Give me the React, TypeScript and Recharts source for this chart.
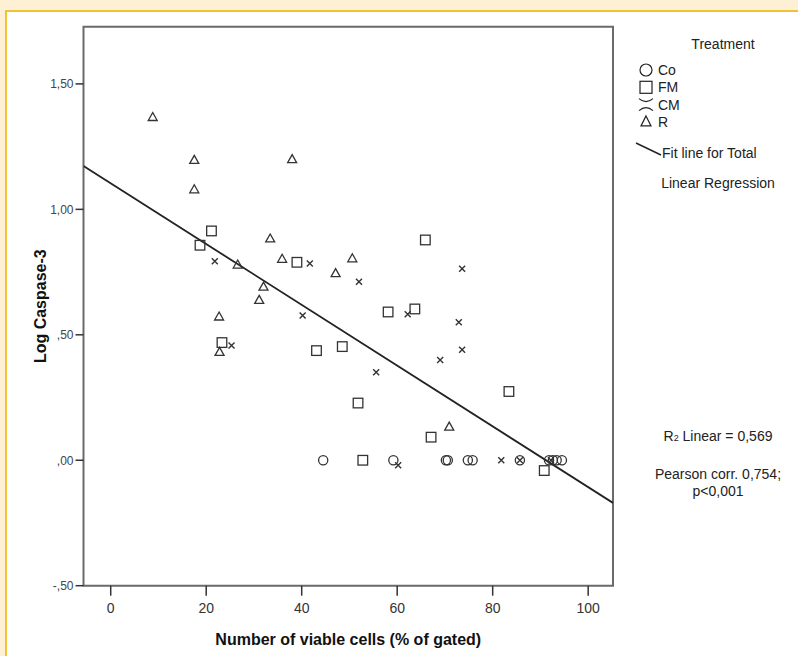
import React from "react";
import {
  ScatterChart,
  Scatter,
  XAxis,
  YAxis,
  ReferenceArea,
  Label,
} from "recharts";

// ---- data (x = % viable cells, y = log caspase-3) ----
const coPoints = [
  { x: 44.5, y: 0 },
  { x: 59.2, y: 0 },
  { x: 70.2, y: 0 },
  { x: 70.6, y: 0 },
  { x: 74.8, y: 0 },
  { x: 75.8, y: 0 },
  { x: 85.7, y: 0 },
  { x: 91.8, y: 0 },
  { x: 92.6, y: 0 },
  { x: 93.4, y: 0 },
  { x: 94.5, y: 0 },
];

const fmPoints = [
  { x: 18.7, y: 0.857 },
  { x: 21.1, y: 0.914 },
  { x: 23.3, y: 0.469 },
  { x: 39.0, y: 0.789 },
  { x: 43.1, y: 0.437 },
  { x: 48.5, y: 0.453 },
  { x: 51.8, y: 0.228 },
  { x: 52.8, y: 0 },
  { x: 58.1, y: 0.591 },
  { x: 63.7, y: 0.603 },
  { x: 65.9, y: 0.878 },
  { x: 67.1, y: 0.092 },
  { x: 83.4, y: 0.274 },
  { x: 90.8, y: -0.041 },
];

const cmPoints = [
  { x: 21.8, y: 0.793 },
  { x: 25.3, y: 0.457 },
  { x: 40.2, y: 0.577 },
  { x: 41.7, y: 0.784 },
  { x: 52.0, y: 0.711 },
  { x: 55.6, y: 0.351 },
  { x: 60.2, y: -0.02 },
  { x: 62.2, y: 0.582 },
  { x: 69.0, y: 0.4 },
  { x: 72.9, y: 0.55 },
  { x: 73.6, y: 0.44 },
  { x: 73.6, y: 0.763 },
  { x: 81.8, y: 0 },
  { x: 85.7, y: 0 },
  { x: 92.2, y: 0 },
];

const rPoints = [
  { x: 8.8, y: 1.368 },
  { x: 17.5, y: 1.197 },
  { x: 17.5, y: 1.08 },
  { x: 38.0, y: 1.2 },
  { x: 22.7, y: 0.573 },
  { x: 22.8, y: 0.432 },
  { x: 26.6, y: 0.78 },
  { x: 31.1, y: 0.639 },
  { x: 32.0, y: 0.692 },
  { x: 33.4, y: 0.884 },
  { x: 35.9, y: 0.803 },
  { x: 47.1, y: 0.746 },
  { x: 50.6, y: 0.805 },
  { x: 70.9, y: 0.134 },
];

const fitLine = [
  { x: -5.7, y: 1.173 },
  { x: 105.2, y: -0.17 },
];

const xTicks = [0, 20, 40, 60, 80, 100];
const yTicks = [-0.5, 0, 0.5, 1, 1.5];
const xDomain = [-5.7, 105.2];
const yDomain = [-0.5, 1.728];

const legendItems = [
  { key: "circle", label: "Co" },
  { key: "square", label: "FM" },
  { key: "cross", label: "CM" },
  { key: "triangle", label: "R" },
];

const FONT = "'Liberation Sans', Arial, sans-serif";
const INK = "#333";

const fmtComma = (v: number) => {
  const neg = v < 0;
  const a = Math.abs(v);
  const intPart = Math.floor(a + 1e-9);
  const dec = Math.round((a - intPart) * 100)
    .toString()
    .padStart(2, "0");
  return (neg ? "-" : "") + (intPart === 0 ? "" : String(intPart)) + "," + dec;
};

const Circle = (p: any) => (
  <circle cx={p.cx} cy={p.cy} r={4.6} fill="none" stroke={INK} strokeWidth={1.3} />
);
const Square = (p: any) => (
  <rect x={p.cx - 4.8} y={p.cy - 4.8} width={9.6} height={9.6} fill="none" stroke={INK} strokeWidth={1.3} />
);
const Cross = (p: any) => (
  <path
    d={`M${p.cx - 3},${p.cy - 3}L${p.cx + 3},${p.cy + 3}M${p.cx - 3},${p.cy + 3}L${p.cx + 3},${p.cy - 3}`}
    stroke={INK}
    strokeWidth={1.4}
    fill="none"
  />
);
const Triangle = (p: any) => (
  <path
    d={`M${p.cx},${p.cy - 4.5}L${p.cx + 4.5},${p.cy + 3.5}L${p.cx - 4.5},${p.cy + 3.5}Z`}
    fill="none"
    stroke={INK}
    strokeWidth={1.3}
  />
);
const NoDot = () => null;

const LegendBox = () => (
  <svg width={178} height={180} style={{ position: "absolute", left: 620, top: 24, overflow: "visible" }}>
    <text x={103} y={25} textAnchor="middle" fontFamily={FONT} fontSize={14} fill="#222">
      Treatment
    </text>
    {legendItems.map((it, i) => {
      const cy = 46 + i * 17.3;
      let sym: any = null;
      if (it.key === "circle") sym = <circle cx={26} cy={cy} r={6} fill="none" stroke="#222" strokeWidth={1.2} />;
      if (it.key === "square") sym = <rect x={20} y={cy - 6} width={12} height={12} fill="none" stroke="#222" strokeWidth={1.2} />;
      if (it.key === "cross")
        sym = (
          <path d={`M19,${cy - 6}Q26,${cy} 33,${cy - 6}M19,${cy + 6}Q26,${cy} 33,${cy + 6}`} fill="none" stroke="#222" strokeWidth={1.2} />
        );
      if (it.key === "triangle")
        sym = <path d={`M26,${cy - 6}L31,${cy + 4}L21,${cy + 4}Z`} fill="none" stroke="#222" strokeWidth={1.2} />;
      return (
        <g key={it.key}>
          {sym}
          <text x={38} y={cy + 5} fontFamily={FONT} fontSize={14} fill="#222">
            {it.label}
          </text>
        </g>
      );
    })}
    <path d="M16,119L41,131" stroke="#222" strokeWidth={1.4} fill="none" />
    <text x={42} y={134} fontFamily={FONT} fontSize={14} fill="#222">
      Fit line for Total
    </text>
    <text x={98} y={164} textAnchor="middle" fontFamily={FONT} fontSize={14} fill="#222">
      Linear Regression
    </text>
  </svg>
);

const YTitle = (props: any) => {
  const vb = props.viewBox || { x: 0, y: 0, width: 0, height: 0 };
  const cx = vb.x + 33;
  const cy = vb.y + vb.height / 2;
  return (
    <text
      x={cx}
      y={cy}
      transform={`rotate(-90 ${cx} ${cy})`}
      textAnchor="middle"
      dominantBaseline="central"
      fontFamily={FONT}
      fontWeight="bold"
      fontSize={16}
      fill="#111"
    >
      Log Caspase-3
    </text>
  );
};

export default function App() {
  return (
    <div
      style={{
        position: "absolute",
        left: 0,
        top: 0,
        width: 798,
        height: 656,
        background: "#fdf0d5",
        overflow: "hidden",
        fontFamily: FONT,
      }}
    >
      <div
        style={{
          position: "absolute",
          left: 5,
          top: 10,
          width: 820,
          height: 680,
          background: "#ffffff",
          borderLeft: "2px solid #f1c232",
          borderTop: "2px solid #f1c232",
        }}
      />
      <div style={{ position: "absolute", left: 0, top: 0 }}>
        <ScatterChart
          width={798}
          height={656}
          margin={{ top: 26.7, right: 185, bottom: 0.3, left: 7.5 }}
        >
          <XAxis
            type="number"
            dataKey="x"
            domain={xDomain}
            ticks={xTicks}
            allowDataOverflow
            axisLine={false}
            tickSize={10}
            tickMargin={7}
            tickLine={{ stroke: "#333", strokeWidth: 1.5 }}
            tick={{ fontSize: 14, fill: "#333", fontFamily: FONT }}
            height={70}
          >
            <Label
              value="Number of viable cells (% of gated)"
              position="insideBottom"
              offset={11}
              style={{ fontSize: 16, fontWeight: "bold", fill: "#111", fontFamily: FONT }}
            />
          </XAxis>
          <YAxis
            type="number"
            dataKey="y"
            domain={yDomain}
            ticks={yTicks}
            allowDataOverflow
            axisLine={false}
            tickSize={8}
            tickLine={{ stroke: "#333", strokeWidth: 1.5 }}
            tickFormatter={fmtComma}
            tick={{ fontSize: 12, fill: "#444", fontFamily: FONT }}
            width={76}
          >
            <Label content={YTitle} />
          </YAxis>
          <ReferenceArea
            x1={xDomain[0]}
            x2={xDomain[1]}
            y1={yDomain[0]}
            y2={yDomain[1]}
            fill="none"
            stroke="#6a6a6a"
            strokeWidth={2}
            ifOverflow="visible"
          />
          <Scatter
            name="Fit line for Total"
            data={fitLine}
            line={{ stroke: "#222", strokeWidth: 1.8 }}
            shape={NoDot}
            isAnimationActive={false}
            legendType="none"
          />
          <Scatter name="Co" data={coPoints} shape={Circle} isAnimationActive={false} />
          <Scatter name="FM" data={fmPoints} shape={Square} isAnimationActive={false} />
          <Scatter name="CM" data={cmPoints} shape={Cross} isAnimationActive={false} />
          <Scatter name="R" data={rPoints} shape={Triangle} isAnimationActive={false} />
        </ScatterChart>
      </div>
      <LegendBox />
      <div
        style={{
          position: "absolute",
          left: 628,
          top: 428,
          width: 180,
          textAlign: "center",
          fontSize: 14,
          color: "#222",
          lineHeight: "17px",
        }}
      >
        <div>
          R<span style={{ fontSize: 9 }}>2</span> Linear = 0,569
        </div>
        <div style={{ marginTop: 19 }}>Pearson corr. 0,754;</div>
        <div>p&lt;0,001</div>
      </div>
    </div>
  );
}
